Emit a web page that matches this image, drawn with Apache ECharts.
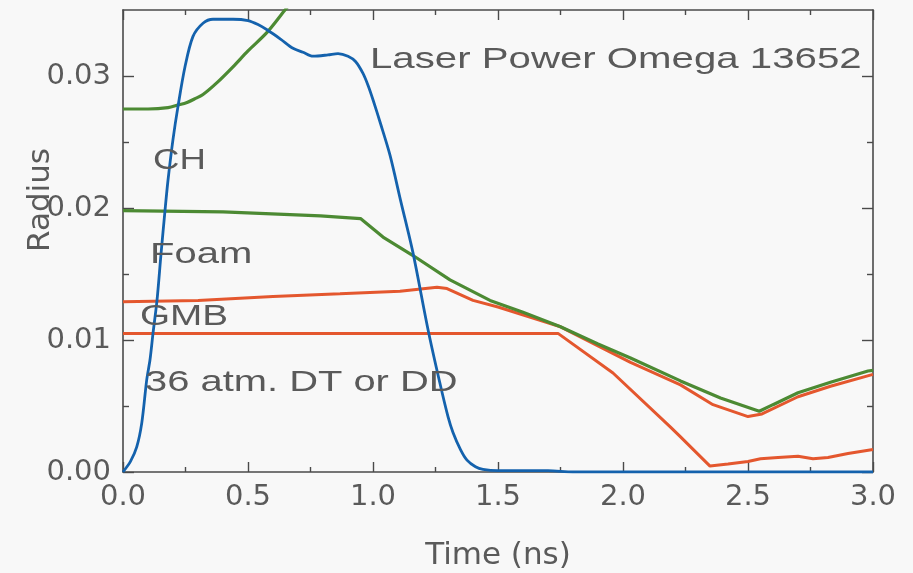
<!DOCTYPE html>
<html>
<head>
<meta charset="utf-8">
<script src="https://cdn.jsdelivr.net/npm/echarts@6/dist/echarts.min.js"></script>
<style>
html,body{margin:0;padding:0;background:#f8f8f8;}
#c{width:913px;height:573px;}
</style>
</head>
<body>
<div id="c"></div>
<script>
// ---- data (time in ns, radius) ----
const xTickValues = [0, 0.5, 1.0, 1.5, 2.0, 2.5, 3.0];
const yTickValues = [0, 0.01, 0.02, 0.03];
const yMinorTickValues = [0.005, 0.015, 0.025];

const laserT = [0, 0.03, 0.055, 0.075, 0.095, 0.108, 0.12, 0.136, 0.152, 0.168, 0.18, 0.2, 0.22, 0.248, 0.28, 0.32, 0.36, 0.44, 0.5, 0.54, 0.576, 0.63, 0.68, 0.72, 0.76, 0.82, 0.86, 0.9, 0.93, 0.96, 0.98, 1.0, 1.03, 1.068, 1.11, 1.16, 1.22, 1.268, 1.3, 1.32, 1.35, 1.376, 1.41, 1.44, 1.5, 1.7, 1.8, 3.0];
const laserR = [0, 0.0008, 0.0019, 0.0037, 0.007, 0.0085, 0.0105, 0.013, 0.0165, 0.0198, 0.0221, 0.0252, 0.0277, 0.0307, 0.0330, 0.0340, 0.0343, 0.0343, 0.0342, 0.0339, 0.0335, 0.0328, 0.0321, 0.0318, 0.0315, 0.0316, 0.0317, 0.0315, 0.0311, 0.0302, 0.0293, 0.0282, 0.0264, 0.0240, 0.0206, 0.0166, 0.0108, 0.0067, 0.0042, 0.003, 0.0017, 0.0009, 0.0004, 0.0002, 0.0001, 0.0001, 0, 0];

const chT = [0, 0.1, 0.18, 0.22, 0.256, 0.29, 0.32, 0.376, 0.44, 0.5, 0.576, 0.648, 0.7];
const chR = [0.0275, 0.0275, 0.0276, 0.0278, 0.0280, 0.0283, 0.0286, 0.0295, 0.0307, 0.0319, 0.0333, 0.0350, 0.0362];

const foamT = [0, 0.4, 0.79, 0.95, 1.04, 1.16, 1.308, 1.468, 1.6, 1.75, 1.9, 2.03, 2.23, 2.39, 2.545, 2.6, 2.7, 2.83, 2.98, 3.0];
const foamR = [0.0198, 0.0197, 0.0194, 0.0192, 0.0178, 0.0164, 0.01455, 0.0130, 0.0121, 0.0110, 0.0097, 0.00864, 0.0069, 0.0056, 0.0046, 0.0051, 0.0060, 0.0068, 0.00765, 0.0077];

const gmbT = [0, 0.3, 0.6, 0.868, 1.108, 1.256, 1.296, 1.4, 1.5, 1.668, 1.75, 2.03, 2.23, 2.36, 2.5, 2.556, 2.7, 2.83, 3.0];
const gmbR = [0.0129, 0.0130, 0.0133, 0.0135, 0.0137, 0.0140, 0.0139, 0.0130, 0.0125, 0.0115, 0.0110, 0.0083, 0.0066, 0.0051, 0.0042, 0.0044, 0.0057, 0.0065, 0.0074];

const gasT = [0, 1.74, 1.96, 2.19, 2.228, 2.348, 2.42, 2.5, 2.55, 2.62, 2.7, 2.76, 2.82, 2.9, 3.0];
const gasR = [0.0105, 0.0105, 0.0075, 0.0034, 0.0027, 0.00045, 0.0006, 0.0008, 0.001, 0.0011, 0.0012, 0.001, 0.0011, 0.0014, 0.0017];

const annotations = [
  {text: 'Laser Power Omega 13652', x: 370, y: 60, size: 30, sx: 1.34},
  {text: 'CH', x: 153, y: 161, size: 30, sx: 1.22},
  {text: 'Foam', x: 150, y: 255, size: 29, sx: 1.38},
  {text: 'GMB', x: 140, y: 317, size: 30, sx: 1.29},
  {text: '36 atm. DT or DD', x: 145, y: 383, size: 30, sx: 1.33}
];

const zip = (a, b) => a.map((v, i) => [v, b[i]]);

const frame = '#4a4a4a';
const txt = '#5a5a5a';
const labFont = 'DejaVu Sans';

const chart = echarts.init(document.getElementById('c'));

const commonX = {
  type: 'value', min: 0, max: 3, interval: 0.5,
  axisLine: {show: true, onZero: false, lineStyle: {color: frame, width: 1.6}},
  axisTick: {show: true, inside: true, length: 10, lineStyle: {color: frame, width: 1.4}},
  minorTick: {show: true, splitNumber: 2, length: 5, lineStyle: {color: frame, width: 1.4}},
  splitLine: {show: false}, minorSplitLine: {show: false}
};

function yAx(pos, ticks, len, withLine, withLabel) {
  const o = {
    type: 'value', min: 0, max: 0.035, position: pos,
    axisLine: {show: withLine, onZero: false, lineStyle: {color: frame, width: 1.6}},
    axisTick: {show: true, inside: true, length: len, customValues: ticks, lineStyle: {color: frame, width: 1.4}},
    splitLine: {show: false},
    axisLabel: {show: false}
  };
  if (withLabel) {
    o.axisLabel = {show: true, customValues: ticks, formatter: v => v.toFixed(2),
      fontSize: 29, fontFamily: labFont, color: txt, margin: 12};
    o.name = 'Radius';
    o.nameLocation = 'middle';
    o.nameGap = 67;
    o.nameMoveOverlap = false;
    o.nameTextStyle = {fontSize: 31, fontFamily: labFont, color: txt, padding: [0, 0, 0, 82]};
  }
  return o;
}

chart.setOption({
  backgroundColor: '#f8f8f8',
  animation: false,
  grid: {left: 123, right: 40, top: 10, bottom: 101, outerBoundsMode: 'none', containLabel: false},
  xAxis: [
    Object.assign({}, commonX, {
      position: 'bottom',
      axisLabel: {show: true, formatter: v => v.toFixed(1), fontSize: 29, fontFamily: labFont, color: txt, margin: 11,
        customValues: xTickValues},
      name: 'Time (ns)', nameLocation: 'middle', nameGap: 68, nameMoveOverlap: false,
      nameTextStyle: {fontSize: 31, fontFamily: labFont, color: txt}
    }),
    Object.assign({}, commonX, {position: 'top', axisLabel: {show: false}})
  ],
  yAxis: [
    yAx('left', yTickValues, 11, true, true),
    yAx('left', yMinorTickValues, 6, false, false),
    yAx('right', yTickValues, 11, true, false),
    yAx('right', yMinorTickValues, 6, false, false)
  ],
  series: [
    {type: 'line', name: 'DT', data: zip(gasT, gasR), showSymbol: false, clip: true,
      lineStyle: {color: '#e4572e', width: 3}},
    {type: 'line', name: 'GMB', data: zip(gmbT, gmbR), showSymbol: false, clip: true,
      lineStyle: {color: '#e4572e', width: 3}},
    {type: 'line', name: 'Foam', data: zip(foamT, foamR), showSymbol: false, clip: true,
      lineStyle: {color: '#4c8a33', width: 3.2}},
    {type: 'line', name: 'CH', data: zip(chT, chR), showSymbol: false, clip: true, smooth: 0.3,
      lineStyle: {color: '#4c8a33', width: 3.2}},
    {type: 'line', name: 'Laser', data: zip(laserT, laserR), showSymbol: false, clip: true, smooth: 0.3,
      lineStyle: {color: '#1462ad', width: 2.8}}
  ],
  graphic: annotations.map(a => ({
    type: 'text', x: a.x, y: a.y, scaleX: a.sx, z: 10,
    style: {text: a.text, fill: txt, fontSize: a.size, fontFamily: 'Liberation Sans', align: 'left', verticalAlign: 'middle'}
  }))
});
</script>
</body>
</html>
